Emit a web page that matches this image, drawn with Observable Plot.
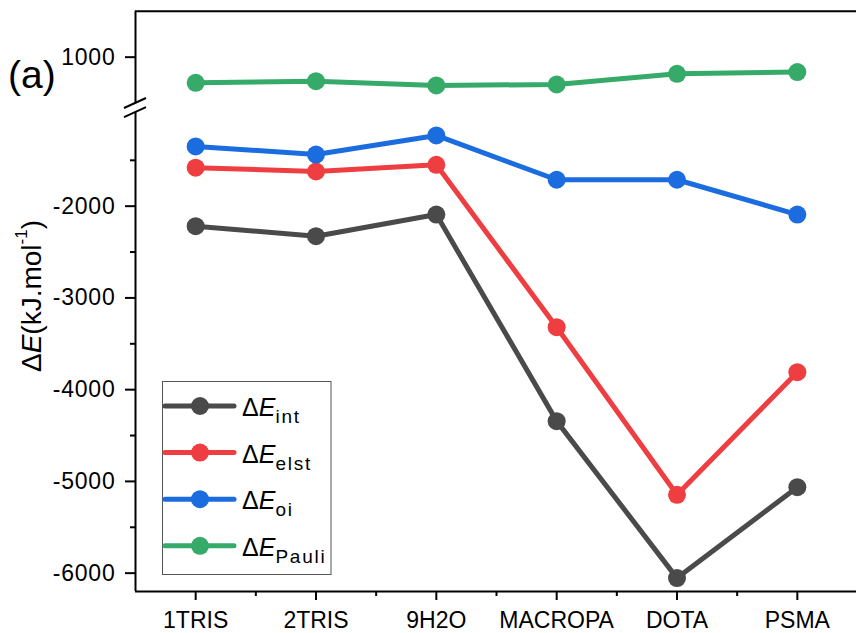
<!DOCTYPE html>
<html><head><meta charset="utf-8">
<script src="https://cdn.jsdelivr.net/npm/d3@7"></script>
<script src="https://cdn.jsdelivr.net/npm/@observablehq/plot@0.6"></script>
<style>
body{margin:0;background:#fff;}
#chart{position:relative;width:856px;height:633px;}
svg text{font-family:"Liberation Sans",Arial,sans-serif;}
</style></head><body><div id="chart"></div>
<script>
const categories = ["1TRIS","2TRIS","9H2O","MACROPA","DOTA","PSMA"];
const eInt   = [-2218,-2327,-2091,-4343,-6054,-5063];
const eElst  = [-1581,-1622,-1549,-3319,-5146,-3809];
const eOi    = [-1349,-1437,-1229,-1712,-1712,-2091];
const ePauli = [721,738,692,702,819,837];
const seriesNames  = ["int","elst","oi","Pauli"];
const seriesColors = ["#4a4a4a","#ef3e42","#1b6ddf","#36ab69"];
const majorTicksY = [1000,-2000,-3000,-4000,-5000,-6000];
const minorTicksY = [-1500,-2500,-3500,-4500,-5500];
const lowerSegment = [-6200,-980];
const upperSegment = [495,1500];

const values = [eInt,eElst,eOi,ePauli];
const data = [];
values.forEach((arr,s)=>arr.forEach((v,i)=>data.push({series:seriesNames[s], i, cat:categories[i], v})));

const W=856,H=633;
const plot = Plot.plot({
  width:W, height:H,
  marginLeft:135, marginRight:0, marginTop:11, marginBottom:42,
  style:{color:"#000", background:"#fff", fontFamily:"Liberation Sans, Arial, sans-serif"},
  x:{type:"linear", domain:[-0.5, categories.length-0.5], range:[135,857]},
  y:{type:"linear", domain:[lowerSegment[0],lowerSegment[1],upperSegment[0],upperSegment[1]], range:[591,112.1,103,10.8]},
  color:{domain:seriesNames, range:seriesColors},
  marks:[
    Plot.line(data,{x:"i",y:"v",z:"series",stroke:"series",strokeWidth:5}),
    Plot.dot(data,{x:"i",y:"v",fill:"series",r:9}),
    Plot.axisX({ticks:d3.range(categories.length), tickFormat:i=>categories[i], tickSize:9, tickPadding:11, fontSize:23, strokeWidth:2, label:null}),
    Plot.axisX({ticks:d3.range(categories.length-1).map(i=>i+0.5), tickFormat:()=>"", tickSize:5, strokeWidth:2, label:null}),
    Plot.axisY({ticks:majorTicksY, tickFormat:d=>String(d), tickSize:10, tickPadding:10, fontSize:23, strokeWidth:2, label:null}),
    Plot.axisY({ticks:minorTicksY, tickFormat:()=>"", tickSize:5, strokeWidth:2, label:null}),
    Plot.ruleX([-0.5],{y1:lowerSegment[0],y2:lowerSegment[1],strokeWidth:2}),
    Plot.ruleX([-0.5],{y1:upperSegment[0],y2:upperSegment[1],strokeWidth:2}),
    Plot.ruleY([lowerSegment[0]],{strokeWidth:2}),
    Plot.ruleY([upperSegment[1]],{strokeWidth:2})
  ]
});
document.getElementById("chart").appendChild(plot);

const svg = d3.select(plot);
svg.selectAll("g[aria-label='y-axis tick label'] text").attr("letter-spacing","0.8px");

// axis break marks
const bx = 135, by = plot.scale("y").apply(lowerSegment[1]);
const ty = plot.scale("y").apply(upperSegment[0]);
[ty, by].forEach(yy=>{
  svg.append("line").attr("x1",bx-11).attr("y1",yy+5).attr("x2",bx+11).attr("y2",yy-5)
    .attr("stroke","#000").attr("stroke-width",2);
});

// y title
const yt = svg.append("text").attr("transform","translate(31,296) rotate(-90)")
  .attr("text-anchor","middle").attr("dominant-baseline","central").attr("font-size",28).attr("fill","#000");
yt.append("tspan").text("\u0394");
yt.append("tspan").attr("font-style","italic").text("E");
yt.append("tspan").text("(kJ.mol");
yt.append("tspan").attr("font-size",17).attr("dy",-10).text("-1");
yt.append("tspan").attr("dy",10).text(")");

// panel label
svg.append("text").attr("x",8).attr("y",88).attr("text-anchor","start").attr("font-size",39).attr("fill","#000").text("(a)");

// legend
const lg = svg.append("g");
lg.append("rect").attr("x",162.5).attr("y",381.5).attr("width",168.5).attr("height",193)
  .attr("fill","#fff").attr("stroke","#555").attr("stroke-width",1);
seriesNames.forEach((name,k)=>{
  const cy = 406 + k*46.6;
  lg.append("line").attr("x1",165).attr("x2",234).attr("y1",cy).attr("y2",cy)
    .attr("stroke",seriesColors[k]).attr("stroke-width",5).attr("stroke-linecap","round");
  lg.append("circle").attr("cx",200).attr("cy",cy).attr("r",9).attr("fill",seriesColors[k]);
  const t = lg.append("text").attr("x",242).attr("y",cy+10).attr("text-anchor","start").attr("font-size",25).attr("fill","#000");
  t.append("tspan").text("\u0394");
  t.append("tspan").attr("font-style","italic").text("E");
  t.append("tspan").attr("font-size",19).attr("dy",7).attr("letter-spacing","1.8px").text(name);
});
</script></body></html>
